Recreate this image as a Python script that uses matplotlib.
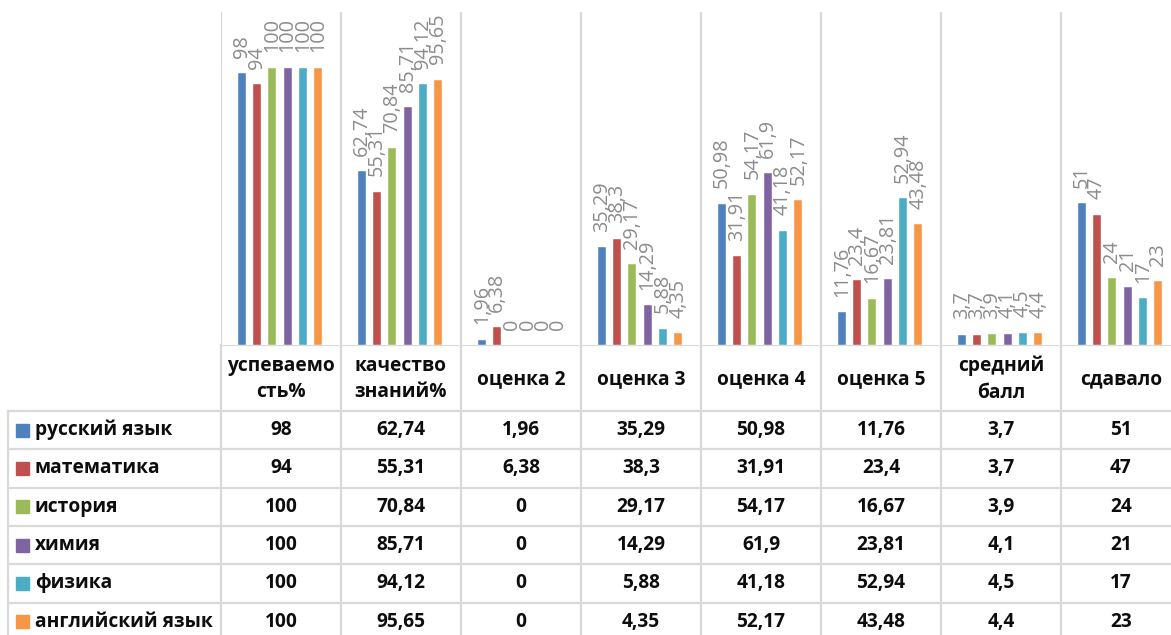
import matplotlib
matplotlib.use("Agg")
import matplotlib.pyplot as plt
from matplotlib.patches import Rectangle

# ---- data ----
categories = ["успеваемо\nсть%", "качество\nзнаний%", "оценка 2", "оценка 3",
              "оценка 4", "оценка 5", "средний\nбалл", "сдавало"]
subjects = ["русский язык", "математика", "история", "химия", "физика", "английский язык"]
russian   = [98, 62.74, 1.96, 35.29, 50.98, 11.76, 3.7, 51]
math_     = [94, 55.31, 6.38, 38.3, 31.91, 23.4, 3.7, 47]
history   = [100, 70.84, 0, 29.17, 54.17, 16.67, 3.9, 24]
chemistry = [100, 85.71, 0, 14.29, 61.9, 23.81, 4.1, 21]
physics   = [100, 94.12, 0, 5.88, 41.18, 52.94, 4.5, 17]
english   = [100, 95.65, 0, 4.35, 52.17, 43.48, 4.4, 23]
series = [russian, math_, history, chemistry, physics, english]
colors = ["#4F81BD", "#C0504D", "#9BBB59", "#8064A2", "#4BACC6", "#F79646"]

def fmt(v):
    return f"{v:g}".replace(".", ",")

W, H = 1171, 635
fig = plt.figure(figsize=(W / 100, H / 100), dpi=100)
fig.patch.set_facecolor("white")

FONT = ["Open Sans", "DejaVu Sans"]
GRID = "#d9d9d9"

# ---- bar chart area ----
x0, cw = 221, 120
base_y, top_y = 345, 12
ax = fig.add_axes([x0 / W, 1 - base_y / H, 8 * cw / W, (base_y - top_y) / H])
ax.set_xlim(0, 8)
ax.set_ylim(0, 120)
for s in ax.spines.values():
    s.set_visible(False)
ax.set_xticks(range(8))
ax.set_xticklabels([])
ax.set_yticks([])
ax.tick_params(length=0)
ax.grid(axis="x", color=GRID, linewidth=1.6)
ax.set_axisbelow(True)

step = 15.3 / cw
bw = 8 / cw
n = len(series)
centers = [i + 0.5 - 1.0 / cw for i in range(len(categories))]
for k, (vals, col) in enumerate(zip(series, colors)):
    xs = [c + (k - (n - 1) / 2) * step for c in centers]
    bars = ax.bar(xs, vals, width=bw, color=col, edgecolor="white", linewidth=0.3, zorder=3)
    for b, v in zip(bars, vals):
        ax.annotate(fmt(v), (b.get_x() + b.get_width() / 2, b.get_height()),
                    xytext=(0, 11), textcoords="offset points", rotation=90,
                    ha="center", va="bottom", fontsize=14.3, color="#8c8c8c",
                    family=FONT, annotation_clip=False)

# ---- data table ----
tax = fig.add_axes([0, 0, 1, 1], zorder=-1)
tax.set_xlim(0, W)
tax.set_ylim(H, 0)
tax.axis("off")

left = 8
hdr_top, hdr_bot = 345, 411
row_h = 38.3
row_lines = [hdr_bot + i * row_h for i in range(7)]
lw = 1.6
TS = 13.8

tax.plot([x0, W], [hdr_top, hdr_top], color=GRID, lw=lw)
for y in row_lines:
    tax.plot([left, W], [y, y], color=GRID, lw=lw)
tax.plot([left, left], [hdr_bot, H], color=GRID, lw=lw)
for i in range(8):
    xv = x0 + i * cw
    tax.plot([xv, xv], [hdr_top, H], color=GRID, lw=lw)

for i, cat in enumerate(categories):
    tax.text(x0 + (i + 0.5) * cw, (hdr_top + hdr_bot) / 2 + 1, cat, ha="center", va="center",
             fontsize=TS, fontweight="bold", family=FONT, linespacing=1.45, color="#0d0d0d")

for r, (name, vals, col) in enumerate(zip(subjects, series, colors)):
    yc = row_lines[r] + row_h / 2
    tax.add_patch(Rectangle((16, yc - 6.5), 13, 13, color=col))
    tax.text(35, yc, name, ha="left", va="center", fontsize=TS, fontweight="bold",
             family=FONT, color="#0d0d0d")
    for i, v in enumerate(vals):
        tax.text(x0 + (i + 0.5) * cw, yc, fmt(v), ha="center", va="center",
                 fontsize=TS, fontweight="bold", family=FONT, color="#0d0d0d")

fig.savefig("out.png", dpi=100, facecolor="white")
